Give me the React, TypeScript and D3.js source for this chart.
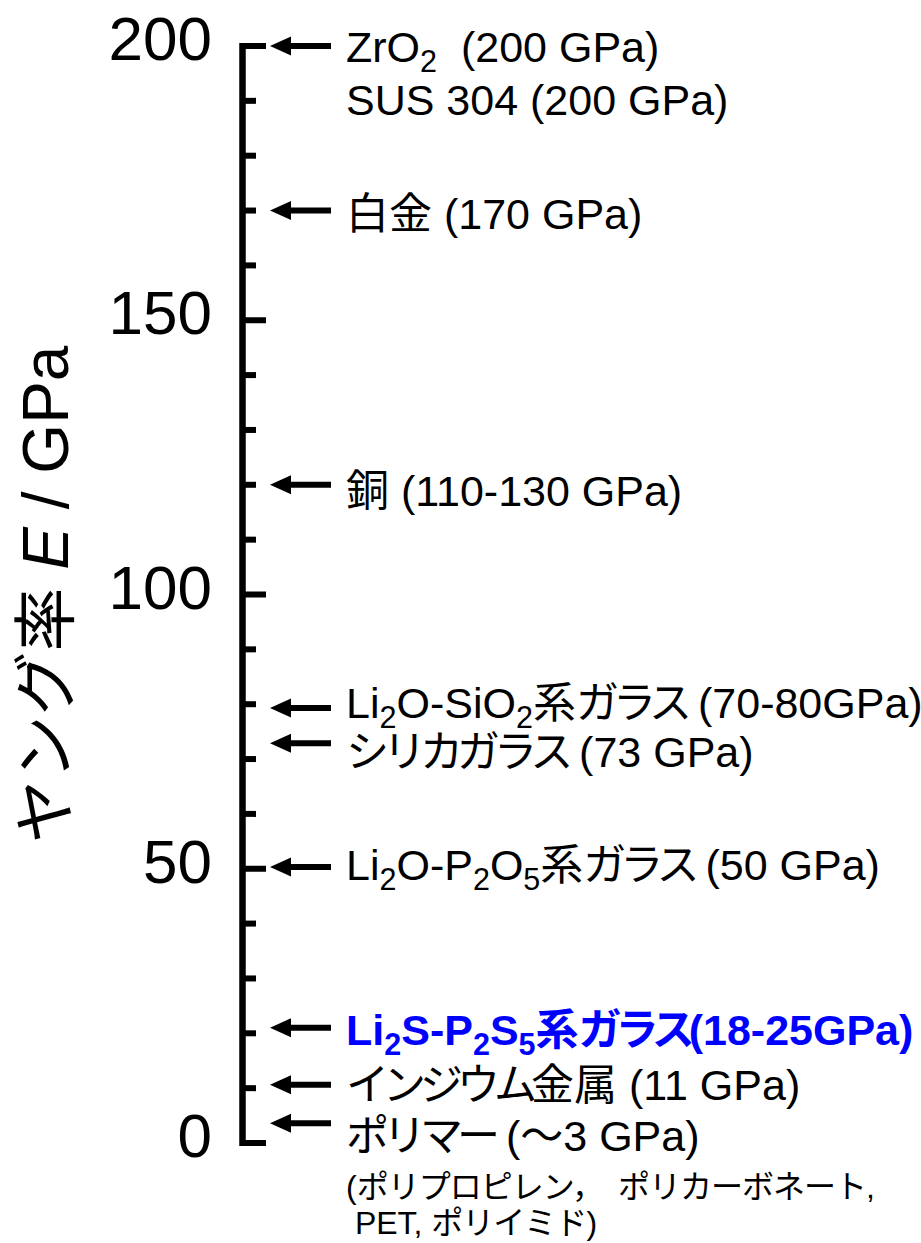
import React from "react";
import * as d3 from "d3";

const W = 921;
const H = 1243;

// axis
const domain = [0, 200];
const majorTicks = [0, 50, 100, 150, 200];
const minorTicks = [10, 20, 30, 40, 60, 70, 80, 90, 110, 120, 130, 140, 160, 170, 180, 190];

// arrows (GPa position where each arrow points)
const arrowGPa = [200, 170, 120, 79.3, 72.9, 50.3, 21, 10.6, 3.6];

// label lines: text segments, and baseline position expressed in GPa
type Seg = { t: string; sub?: boolean };
const labelSegments: Seg[][] = [
  [{ t: "ZrO" }, { t: "2", sub: true }, { t: "  (200 GPa)" }],
  [{ t: "SUS 304 (200 GPa)" }],
  [{ t: "白金 (170 GPa)" }],
  [{ t: "銅 (110-130 GPa)" }],
  [{ t: "Li" }, { t: "2", sub: true }, { t: "O-SiO" }, { t: "2", sub: true }, { t: "系ガラス (70-80GPa)" }],
  [{ t: "シリカガラス (73 GPa)" }],
  [{ t: "Li" }, { t: "2", sub: true }, { t: "O-P" }, { t: "2", sub: true }, { t: "O" }, { t: "5", sub: true }, { t: "系ガラス (50 GPa)" }],
  [{ t: "Li" }, { t: "2", sub: true }, { t: "S-P" }, { t: "2", sub: true }, { t: "S" }, { t: "5", sub: true }, { t: "系ガラス(18-25GPa)" }],
  [{ t: "インジウム金属 (11 GPa)" }],
  [{ t: "ポリマー (～3 GPa)" }],
  [{ t: "(ポリプロピレン，　ポリカーボネート," }],
  [{ t: " PET, ポリイミド)" }],
];
const labelBaselineGPa = [197.0, 187.5, 166.7, 116.2, 77.4, 68.5, 47.9, 17.8, 7.9, -1.4, -10.1, -16.5];
const labelHighlight = [false, false, false, false, false, false, false, true, false, false, false, false];
const labelSmall = [false, false, false, false, false, false, false, false, false, false, true, true];

const FONT = "'Liberation Sans', Arial, 'Noto Sans CJK JP', sans-serif";

type Run = { t: string; kind: "latin" | "kana" | "kanji" };
const classify = (ch: string): Run["kind"] => {
  if (/[\u3040-\u30ff]/.test(ch)) return "kana";
  if (/[\u3000-\u303f\u4e00-\u9fff\uff00-\uffef]/.test(ch)) return "kanji";
  return "latin";
};

export default function App() {
  const y = d3.scaleLinear().domain(domain).range([1143, 46]);
  const axisX = 242.5;

  const renderSeg = (s: Seg, i: number, size: number, small: boolean) => {
    if (s.sub) {
      return (
        <tspan key={i} fontSize={size * 0.71}>
          {s.t}
        </tspan>
      );
    }
    const runs: Run[] = [];
    for (const ch of s.t) {
      const k = classify(ch);
      if (runs.length && runs[runs.length - 1].kind === k) runs[runs.length - 1].t += ch;
      else runs.push({ t: ch, kind: k });
    }
    return runs.map((r, j) => {
      let ls = 0;
      if (small) ls = r.kind === "latin" ? 0 : -1;
      else ls = r.kind === "kana" ? -6 : 0;
      return (
        <tspan key={i + "-" + j} letterSpacing={ls}>
          {r.t}
        </tspan>
      );
    });
  };

  return (
    <svg
      width={W}
      height={H}
      viewBox={`0 0 ${W} ${H}`}
      style={{ position: "absolute", left: 0, top: 0, background: "#fff" }}
      fontFamily={FONT}
    >
      <rect x={0} y={0} width={W} height={H} fill="#fff" />
      {/* axis line */}
      <line x1={axisX} x2={axisX} y1={y(200) - 3} y2={y(0) + 3} stroke="#000" strokeWidth={6.5} />
      {majorTicks.map((t) => (
        <line key={"M" + t} x1={axisX} x2={266} y1={y(t)} y2={y(t)} stroke="#000" strokeWidth={6} />
      ))}
      {minorTicks.map((t) => (
        <line key={"m" + t} x1={axisX} x2={256} y1={y(t)} y2={y(t)} stroke="#000" strokeWidth={6} />
      ))}
      {majorTicks.map((t) => (
        <text key={"L" + t} x={212} y={y(t) + 14} textAnchor="end" fontSize={62} fill="#000">
          {t}
        </text>
      ))}
      {/* y title */}
      <text transform={`translate(68, ${y(100)}) rotate(-90)`} textAnchor="middle" fontSize={64} fill="#000">
        ヤング率 <tspan fontStyle="italic">E</tspan> / GPa
      </text>
      {/* arrows */}
      {arrowGPa.map((v, i) => {
        const yy = y(v);
        return (
          <g key={"a" + i}>
            <line x1={288} x2={331} y1={yy} y2={yy} stroke="#000" strokeWidth={6} />
            <path d={`M270,${yy} L291,${yy - 9.5} L291,${yy + 9.5} Z`} fill="#000" />
          </g>
        );
      })}
      {/* labels */}
      {labelSegments.map((segs, i) => {
        const small = labelSmall[i];
        const size = small ? 32 : 43;
        const hl = labelHighlight[i];
        const shift = 9.5;
        return (
          <text
            key={"t" + i}
            x={346}
            y={y(labelBaselineGPa[i])}
            fontSize={size}
            fontWeight={hl ? "bold" : "normal"}
            fill={hl ? "#0000ff" : "#000"}
            style={{ whiteSpace: "pre" }}
          >
            {segs.map((s, k) => {
              const prevSub = k > 0 && segs[k - 1].sub;
              let dy = 0;
              if (s.sub && !prevSub) dy = shift;
              if (!s.sub && prevSub) dy = -shift;
              return (
                <tspan key={"w" + k} dy={dy}>
                  {renderSeg(s, k, size, small)}
                </tspan>
              );
            })}
          </text>
        );
      })}
    </svg>
  );
}
